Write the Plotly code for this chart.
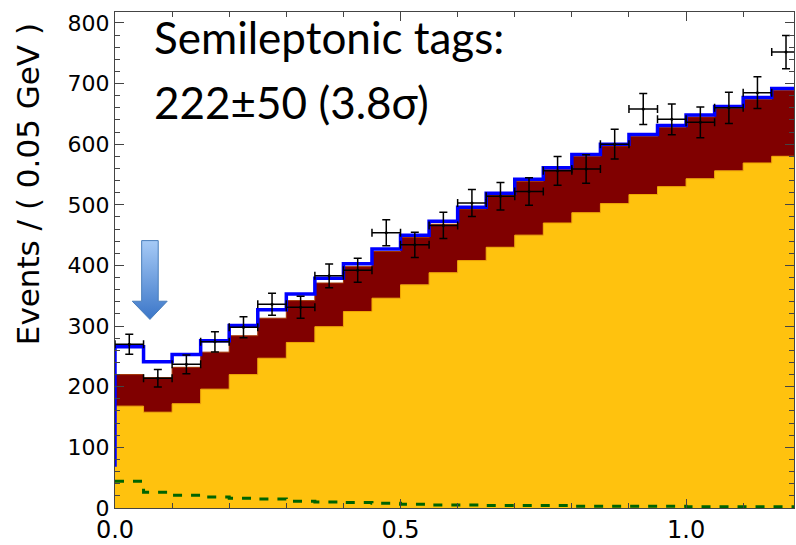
import numpy as np
import plotly.graph_objects as go

# ---- data ----
bin_edges = [round(0.05 * i, 2) for i in range(25)]          # 0.00 .. 1.20
bin_centers = [round(0.025 + 0.05 * i, 3) for i in range(24)]

data_counts = [270, 214, 237, 274, 298, 336, 331, 383, 392, 454, 434, 466,
               503, 514, 522, 556, 559, 600, 658, 641, 636, 660, 685, 752]
data_errors = [16.4, 14.6, 15.4, 16.6, 17.3, 18.3, 18.2, 19.6, 19.8, 21.3, 20.8, 21.6,
               22.4, 22.7, 22.8, 23.6, 23.6, 24.5, 25.7, 25.3, 25.2, 25.7, 26.2, 27.4]

total_fit = [266, 241, 253, 276, 301, 327, 353, 379, 403, 427, 450, 473,
             496, 519, 542, 561, 583, 600, 616, 631, 648, 662, 677, 692]
red_top = [220, 215, 232, 257, 284, 313, 342, 371, 398, 423, 446, 468,
           493, 516, 539, 558, 580, 597, 613, 628, 645, 659, 674, 689]
yellow_top = [168, 158, 172, 196, 220, 247, 273, 299, 324, 346, 368, 388,
              408, 430, 450, 470, 487, 502, 517, 530, 543, 556, 569, 580]
green_dash = [44, 26, 21, 18, 16, 15, 11, 10, 9, 8, 6, 5,
              5, 4, 4, 4, 3, 3, 3, 3, 2, 2, 2, 2]
blue_start = 68

x_range = [0, 1.189]
y_range = [0, 818]

# arrow geometry (data units)
arrow_shaft = (0.0467, 0.0757)
arrow_head = (0.0302, 0.0914)
arrow_tip_x = 0.0612
arrow_y = (441, 341, 311)   # top, head base, tip

YELLOW = "#FFC20E"
DARKRED = "#800000"
BLUE = "#0000FF"
GREEN = "#006400"


def step(vals):
    return list(vals) + [vals[-1]]


fig = go.Figure()

fig.add_trace(go.Scatter(x=bin_edges, y=step(yellow_top), mode="lines",
                         line=dict(shape="hv", color="#F0A800", width=1),
                         fill="tozeroy", fillcolor=YELLOW, showlegend=False,
                         hoverinfo="skip"))
fig.add_trace(go.Scatter(x=bin_edges, y=step(red_top), mode="lines",
                         line=dict(shape="hv", color="#A03000", width=1),
                         fill="tonexty", fillcolor=DARKRED, showlegend=False,
                         hoverinfo="skip"))
fig.add_trace(go.Scatter(x=bin_edges, y=step(green_dash), mode="lines",
                         line=dict(shape="hv", color=GREEN, width=3, dash="dash"),
                         showlegend=False, hoverinfo="skip"))
fig.add_trace(go.Scatter(x=[0] + bin_edges, y=[blue_start] + step(total_fit), mode="lines",
                         line=dict(shape="hv", color=BLUE, width=3.5),
                         showlegend=False, hoverinfo="skip"))
fig.add_trace(go.Scatter(x=bin_centers, y=data_counts, mode="markers",
                         marker=dict(color="black", size=3),
                         error_y=dict(type="data", array=data_errors, color="black",
                                      thickness=1.5, width=4),
                         error_x=dict(type="constant", value=0.025, color="black",
                                      thickness=1.5, width=4),
                         showlegend=False))

# arrow
ax = [arrow_shaft[0], arrow_shaft[1], arrow_shaft[1], arrow_head[1], arrow_tip_x,
      arrow_head[0], arrow_shaft[0], arrow_shaft[0]]
ay = [arrow_y[0], arrow_y[0], arrow_y[1], arrow_y[1], arrow_y[2],
      arrow_y[1], arrow_y[1], arrow_y[0]]
fig.add_trace(go.Scatter(x=ax, y=ay, mode="lines", fill="toself",
                         line=dict(color="#4A7EBB", width=1),
                         fillgradient=dict(type="vertical",
                                           colorscale=[[0, "#3B76C8"], [1, "#A6CAF6"]]),
                         showlegend=False, hoverinfo="skip"))

axis_common = dict(showgrid=False, zeroline=False, showline=True, linecolor="#444",
                   linewidth=1, mirror="ticks", ticks="inside", tickcolor="#444",
                   ticklen=9, tickwidth=1)

fig.update_xaxes(range=x_range, tickvals=[0.0, 0.5, 1.0], ticktext=["0.0", "0.5", "1.0"],
                 tickfont=dict(family="DejaVu Sans", size=24, color="black"),
                 minor=dict(ticks="inside", dtick=0.1, ticklen=5, tickcolor="#444"),
                 **axis_common)
fig.update_yaxes(range=y_range, tickvals=[0, 100, 200, 300, 400, 500, 600, 700, 800],
                 tickfont=dict(family="DejaVu Sans", size=22, color="black"),
                 minor=dict(ticks="inside", dtick=20, ticklen=5, tickcolor="#444"),
                 **axis_common)

fig.update_layout(
    width=796, height=545,
    margin=dict(l=115, r=1, t=12, b=28),
    plot_bgcolor="white", paper_bgcolor="white",
    annotations=[
        dict(text="Events / ( 0.05 GeV )", xref="paper", yref="paper",
             x=-0.128, y=0.653, textangle=-90, showarrow=False,
             font=dict(family="DejaVu Sans", size=31, color="black"),
             xanchor="center", yanchor="middle"),
        dict(text="Semileptonic tags:", xref="paper", yref="paper",
             x=0.054, y=1.006, showarrow=False, xanchor="left", yanchor="top",
             font=dict(family="Lato", size=44, color="black")),
        dict(text="222±50 (3.8σ)", xref="paper", yref="paper",
             x=0.054, y=0.876, showarrow=False, xanchor="left", yanchor="top",
             font=dict(family="Lato", size=44, color="black")),
    ],
)

fig.write_html("out.html")
